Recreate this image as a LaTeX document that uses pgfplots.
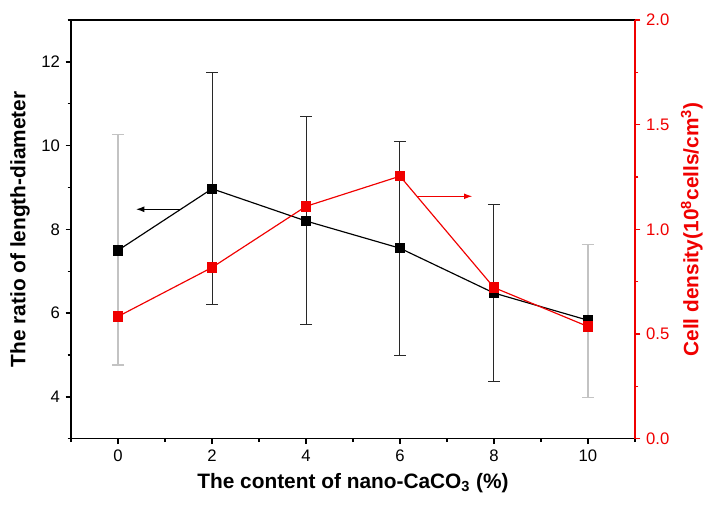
\documentclass[border=0pt]{standalone}
\usepackage{fontspec}
\setmainfont{Liberation Sans}
\usepackage{pgfplots}
\pgfplotsset{compat=1.18}
\usetikzlibrary{arrows.meta}
\definecolor{cellred}{RGB}{240,0,0}
\definecolor{bargray}{RGB}{195,195,195}
\definecolor{bardark}{RGB}{40,40,40}

\begin{document}
\begin{tikzpicture}
\pgfplotsset{
  every axis/.append style={
    scale only axis, width=338pt, height=251pt,
    xmin=-1, xmax=11,
    tick align=outside,
    axis line style={line width=0.9pt},
    major tick length=3.2pt, minor tick length=2pt,
    every tick/.style={line width=0.8pt},
    tick label style={font=\fontsize{10}{12}\selectfont, /pgf/number format/assume math mode=true},
    label style={font=\bfseries\fontsize{12.5}{15}\selectfont},
  },
}
\begin{axis}[
  ymin=3, ymax=13,
  ytick={4,6,...,12}, minor ytick={3,5,...,13},
  xtick={0,2,...,10}, minor xtick={-1,1,...,11},
  tick pos=left,
  xlabel={The content of nano-CaCO\textsubscript{3} (\%)},
  ylabel={The ratio of length-diameter},
]
% light error bars (0 and 10 %)
\addplot[draw=none, forget plot, error bars/.cd, y dir=both, y explicit,
  error bar style={bargray, line width=0.7pt},
  error mark options={rotate=90, mark size=3.6pt, bargray, line width=0.7pt}]
  coordinates {(0,7.51) +- (0,2.75) (10,5.81) +- (0,1.83)};
% dark error bars
\addplot[draw=none, forget plot, error bars/.cd, y dir=both, y explicit,
  error bar style={bardark, line width=0.6pt},
  error mark options={rotate=90, mark size=3.6pt, bardark, line width=0.6pt}]
  coordinates {(2,8.97) +- (0,2.77) (4,8.21) +- (0,2.48) (6,7.54) +- (0,2.56) (8,6.48) +- (0,2.12)};
\addplot[black, line width=0.7pt, mark=square*, mark size=2.8pt]
  coordinates {(0,7.50) (2,8.97) (4,8.20) (6,7.55) (8,6.48) (10,5.83)};
\draw[-{Latex[length=5pt,width=3.5pt]}, line width=0.7pt] (axis cs:1.33,8.48) -- (axis cs:0.38,8.48);
\end{axis}
\begin{axis}[
  axis y line*=right, axis x line=none,
  ymin=0, ymax=2,
  ytick={0,0.5,...,2}, minor ytick={0.25,0.75,...,1.75},
  y axis line style={cellred},
  every y tick/.style={cellred, line width=0.8pt},
  yticklabel style={cellred, /pgf/number format/.cd, fixed, fixed zerofill, precision=1},
  ylabel={Cell density(10\textsuperscript{8}cells/cm\textsuperscript{3})},
  ylabel near ticks,
  ylabel style={cellred, font=\bfseries\fontsize{12.5}{15}\selectfont},
]
\addplot[cellred, line width=0.7pt, mark=square*, mark size=2.8pt]
  coordinates {(0,0.584) (2,0.818) (4,1.11) (6,1.254) (8,0.722) (10,0.536)};
\draw[cellred, -{Latex[length=5pt,width=3.5pt]}, line width=0.7pt] (axis cs:6.36,1.158) -- (axis cs:7.54,1.158);
\end{axis}
\pgfresetboundingbox
\path[use as bounding box] ([shift={(-42.6pt,-49.8pt)}]current axis.south west) rectangle ([shift={(49.8pt,12pt)}]current axis.north east);
\end{tikzpicture}
\end{document}
